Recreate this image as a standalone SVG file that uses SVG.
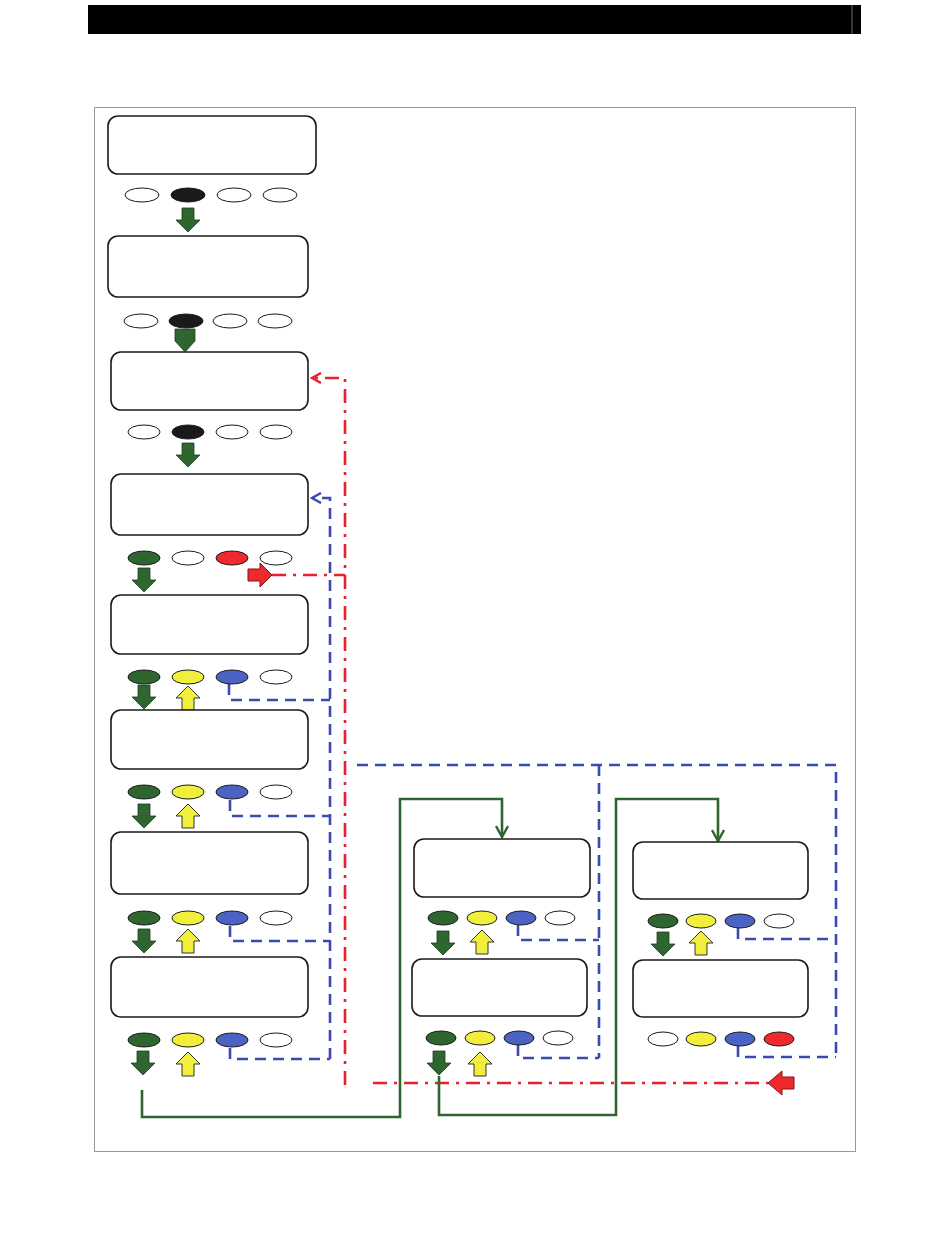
<svg xmlns="http://www.w3.org/2000/svg" width="950" height="1260" viewBox="0 0 950 1260">
<defs>
<style>
.node{fill:#fff;stroke:#1a1a1a;stroke-width:1.6}
.btn{stroke:#1a1a1a;stroke-width:1}
.w{fill:#fff}.k{fill:#1a1a1a}.g{fill:#2f6630}.y{fill:#f2ef3c}.b{fill:#4a63c4}.r{fill:#ee2a2e}
.ga{fill:#2f6630;stroke:#1e3d1e;stroke-width:0.8}
.ya{fill:#f2ef3c;stroke:#333;stroke-width:1}
.ra{fill:#ee2a2e;stroke:#8a1010;stroke-width:1}
.blue{fill:none;stroke:#3a4aae;stroke-width:2.6;stroke-dasharray:11 7}
.red{fill:none;stroke:#e8212e;stroke-width:2.6;stroke-dasharray:14 7 3 7}
.green{fill:none;stroke:#2f6630;stroke-width:2.6}
</style>
<path id="dn" d="M-6,0 H6 V12 H12 L0,24 L-12,12 H-6 Z"/>
<path id="up" d="M-6,24 H6 V12 H12 L0,0 L-12,12 H-6 Z"/>
<marker id="mr" markerWidth="12" markerHeight="12" refX="10" refY="6" orient="auto" markerUnits="userSpaceOnUse"><path d="M1,1 L10,6 L1,11" fill="none" stroke="#e8212e" stroke-width="2.4"/></marker>
<marker id="mb" markerWidth="12" markerHeight="12" refX="10" refY="6" orient="auto" markerUnits="userSpaceOnUse"><path d="M1,1 L10,6 L1,11" fill="none" stroke="#3a4aae" stroke-width="2.4"/></marker>
<marker id="mg" markerWidth="14" markerHeight="14" refX="12" refY="7" orient="auto" markerUnits="userSpaceOnUse"><path d="M1,1 L12,7 L1,13" fill="none" stroke="#2f6630" stroke-width="2.4"/></marker>
</defs>
<rect width="950" height="1260" fill="#fff"/>
<rect x="88" y="5" width="773" height="29" fill="#000"/>
<line x1="852" y1="5" x2="852" y2="34" stroke="#888" stroke-width="0.8"/>
<rect x="94.5" y="107.5" width="761" height="1044" fill="none" stroke="#999" stroke-width="1"/>

<g id="connectors">
<path class="red" d="M345,1085 V378 H312" marker-end="url(#mr)"/>
<path class="red" d="M272,575 H345"/>
<path class="red" d="M373,1083 H768"/>
<path class="blue" d="M330,1059 V498 H312" marker-end="url(#mb)"/>
<path class="blue" d="M229,684 V700 H330"/>
<path class="blue" d="M230,800 V816 H330"/>
<path class="blue" d="M230,926 V941 H330"/>
<path class="blue" d="M230,1048 V1059 H330"/>
<path class="blue" d="M357,765 H836 V1057"/>
<path class="blue" d="M599,765 V1058"/>
<path class="blue" d="M518,925 V940 H599"/>
<path class="blue" d="M518,1045 V1058 H599"/>
<path class="blue" d="M738,928 V939 H836"/>
<path class="blue" d="M738,1046 V1057 H836"/>
<path class="green" d="M142,1090 V1117 H400 V799 H502 V837" marker-end="url(#mg)"/>
<path class="green" d="M439,1076 V1115 H616 V799 H718 V841" marker-end="url(#mg)"/>
<path class="ra" d="M248,569 H260 V563 L272,575 L260,587 V581 H248 Z"/>
<path class="ra" d="M794,1077 H782 V1071 L768,1083 L782,1095 V1089 H794 Z"/>
</g>

<g id="n1"><rect class="node" x="108" y="116" width="208" height="58" rx="10"/>
<ellipse class="btn w" cx="142" cy="195" rx="17" ry="7"/><ellipse class="btn k" cx="188" cy="195" rx="17" ry="7"/><ellipse class="btn w" cx="234" cy="195" rx="17" ry="7"/><ellipse class="btn w" cx="280" cy="195" rx="17" ry="7"/>
<use href="#dn" class="ga" x="188" y="208"/></g>

<g id="n2"><rect class="node" x="108" y="236" width="200" height="61" rx="10"/>
<ellipse class="btn w" cx="141" cy="321" rx="17" ry="7"/><ellipse class="btn k" cx="186" cy="321" rx="17" ry="7"/><ellipse class="btn w" cx="230" cy="321" rx="17" ry="7"/><ellipse class="btn w" cx="275" cy="321" rx="17" ry="7"/></g>

<g id="n3"><rect class="node" x="111" y="352" width="197" height="58" rx="10"/>
<ellipse class="btn w" cx="144" cy="432" rx="16" ry="7"/><ellipse class="btn k" cx="188" cy="432" rx="16" ry="7"/><ellipse class="btn w" cx="232" cy="432" rx="16" ry="7"/><ellipse class="btn w" cx="276" cy="432" rx="16" ry="7"/>
<use href="#dn" class="ga" x="188" y="443"/></g>
<path class="ga" d="M175,329 H195 V341 L185,352 L175,341 Z"/>

<g id="n4"><rect class="node" x="111" y="474" width="197" height="61" rx="10"/>
<ellipse class="btn g" cx="144" cy="558" rx="16" ry="7"/><ellipse class="btn w" cx="188" cy="558" rx="16" ry="7"/><ellipse class="btn r" cx="232" cy="558" rx="16" ry="7"/><ellipse class="btn w" cx="276" cy="558" rx="16" ry="7"/>
<use href="#dn" class="ga" x="144" y="568"/></g>

<g id="n5"><rect class="node" x="111" y="595" width="197" height="59" rx="10"/>
<ellipse class="btn g" cx="144" cy="677" rx="16" ry="7"/><ellipse class="btn y" cx="188" cy="677" rx="16" ry="7"/><ellipse class="btn b" cx="232" cy="677" rx="16" ry="7"/><ellipse class="btn w" cx="276" cy="677" rx="16" ry="7"/>
<use href="#dn" class="ga" x="144" y="685"/><use href="#up" class="ya" x="188" y="686"/></g>

<g id="n6"><rect class="node" x="111" y="710" width="197" height="59" rx="10"/>
<ellipse class="btn g" cx="144" cy="792" rx="16" ry="7"/><ellipse class="btn y" cx="188" cy="792" rx="16" ry="7"/><ellipse class="btn b" cx="232" cy="792" rx="16" ry="7"/><ellipse class="btn w" cx="276" cy="792" rx="16" ry="7"/>
<use href="#dn" class="ga" x="144" y="804"/><use href="#up" class="ya" x="188" y="804"/></g>

<g id="n7"><rect class="node" x="111" y="832" width="197" height="62" rx="10"/>
<ellipse class="btn g" cx="144" cy="918" rx="16" ry="7"/><ellipse class="btn y" cx="188" cy="918" rx="16" ry="7"/><ellipse class="btn b" cx="232" cy="918" rx="16" ry="7"/><ellipse class="btn w" cx="276" cy="918" rx="16" ry="7"/>
<use href="#dn" class="ga" x="144" y="929"/><use href="#up" class="ya" x="188" y="929"/></g>

<g id="n8"><rect class="node" x="111" y="957" width="197" height="60" rx="10"/>
<ellipse class="btn g" cx="144" cy="1040" rx="16" ry="7"/><ellipse class="btn y" cx="188" cy="1040" rx="16" ry="7"/><ellipse class="btn b" cx="232" cy="1040" rx="16" ry="7"/><ellipse class="btn w" cx="276" cy="1040" rx="16" ry="7"/>
<use href="#dn" class="ga" x="143" y="1051"/><use href="#up" class="ya" x="188" y="1052"/></g>

<g id="m1"><rect class="node" x="414" y="839" width="176" height="58" rx="10"/>
<ellipse class="btn g" cx="443" cy="918" rx="15" ry="7"/><ellipse class="btn y" cx="482" cy="918" rx="15" ry="7"/><ellipse class="btn b" cx="521" cy="918" rx="15" ry="7"/><ellipse class="btn w" cx="560" cy="918" rx="15" ry="7"/>
<use href="#dn" class="ga" x="443" y="931"/><use href="#up" class="ya" x="482" y="930"/></g>

<g id="m2"><rect class="node" x="412" y="959" width="175" height="57" rx="10"/>
<ellipse class="btn g" cx="441" cy="1038" rx="15" ry="7"/><ellipse class="btn y" cx="480" cy="1038" rx="15" ry="7"/><ellipse class="btn b" cx="519" cy="1038" rx="15" ry="7"/><ellipse class="btn w" cx="558" cy="1038" rx="15" ry="7"/>
<use href="#dn" class="ga" x="439" y="1051"/><use href="#up" class="ya" x="480" y="1052"/></g>

<g id="r1"><rect class="node" x="633" y="842" width="175" height="57" rx="10"/>
<ellipse class="btn g" cx="663" cy="921" rx="15" ry="7"/><ellipse class="btn y" cx="701" cy="921" rx="15" ry="7"/><ellipse class="btn b" cx="740" cy="921" rx="15" ry="7"/><ellipse class="btn w" cx="779" cy="921" rx="15" ry="7"/>
<use href="#dn" class="ga" x="663" y="932"/><use href="#up" class="ya" x="701" y="931"/></g>

<g id="r2"><rect class="node" x="633" y="960" width="175" height="57" rx="10"/>
<ellipse class="btn w" cx="663" cy="1039" rx="15" ry="7"/><ellipse class="btn y" cx="701" cy="1039" rx="15" ry="7"/><ellipse class="btn b" cx="740" cy="1039" rx="15" ry="7"/><ellipse class="btn r" cx="779" cy="1039" rx="15" ry="7"/></g>
</svg>
